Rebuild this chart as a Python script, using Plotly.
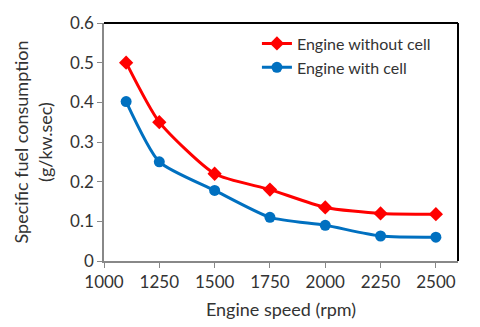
import plotly.graph_objects as go

speed = [1100, 1250, 1500, 1750, 2000, 2250, 2500]
without_cell = [0.50, 0.35, 0.22, 0.18, 0.135, 0.12, 0.118]
with_cell = [0.402, 0.25, 0.178, 0.11, 0.09, 0.063, 0.06]
x_ticks = [1000, 1250, 1500, 1750, 2000, 2250, 2500]
y_ticks = [0, 0.1, 0.2, 0.3, 0.4, 0.5, 0.6]

FONT = "Lato"
fig = go.Figure()
fig.add_trace(go.Scatter(x=speed, y=without_cell, name="Engine without cell",
                         mode="lines+markers", line=dict(color="#FF0000", width=3, shape="spline", smoothing=0.6),
                         marker=dict(symbol="diamond", size=11, color="#FF0000")))
fig.add_trace(go.Scatter(x=speed, y=with_cell, name="Engine with cell",
                         mode="lines+markers", line=dict(color="#0070C0", width=3, shape="spline", smoothing=0.6),
                         marker=dict(symbol="circle", size=11, color="#0070C0")))

fig.update_layout(
    width=480, height=327,
    margin=dict(l=96, r=30, t=15, b=74),
    paper_bgcolor="white", plot_bgcolor="white",
    font=dict(family=FONT, size=17, color="#333333"),
    showlegend=True,
    legend=dict(x=0.432, y=0.985, xanchor="left", yanchor="top", bgcolor="rgba(0,0,0,0)",
                font=dict(size=16, family=FONT), tracegroupgap=0),
    xaxis=dict(range=[1000, 2600], tickvals=x_ticks, showgrid=False, zeroline=False, automargin=False,
               showline=True, linecolor="#888888", linewidth=1.5, ticks="outside", ticklen=5,
               tickcolor="#888888",
               title=dict(text="Engine speed (rpm)", font=dict(size=18), standoff=12)),
    yaxis=dict(range=[0, 0.6], tickvals=y_ticks, ticktext=["0", "0.1", "0.2", "0.3", "0.4", "0.5", "0.6"],
               showgrid=False, zeroline=False, automargin=False,
               showline=True, linecolor="#888888", linewidth=1.5, ticks="outside", ticklen=5,
               tickcolor="#888888",
               title=dict(text="Specific fuel consumption<br>(g/kw.sec)", font=dict(size=18), standoff=13)),
)
fig.add_shape(type="line", xref="paper", yref="paper", x0=0, x1=1, y0=1, y1=1,
              line=dict(color="black", width=2))
fig.add_shape(type="line", xref="paper", yref="paper", x0=1, x1=1, y0=0, y1=1,
              line=dict(color="black", width=2))
fig.write_html("out.html")
